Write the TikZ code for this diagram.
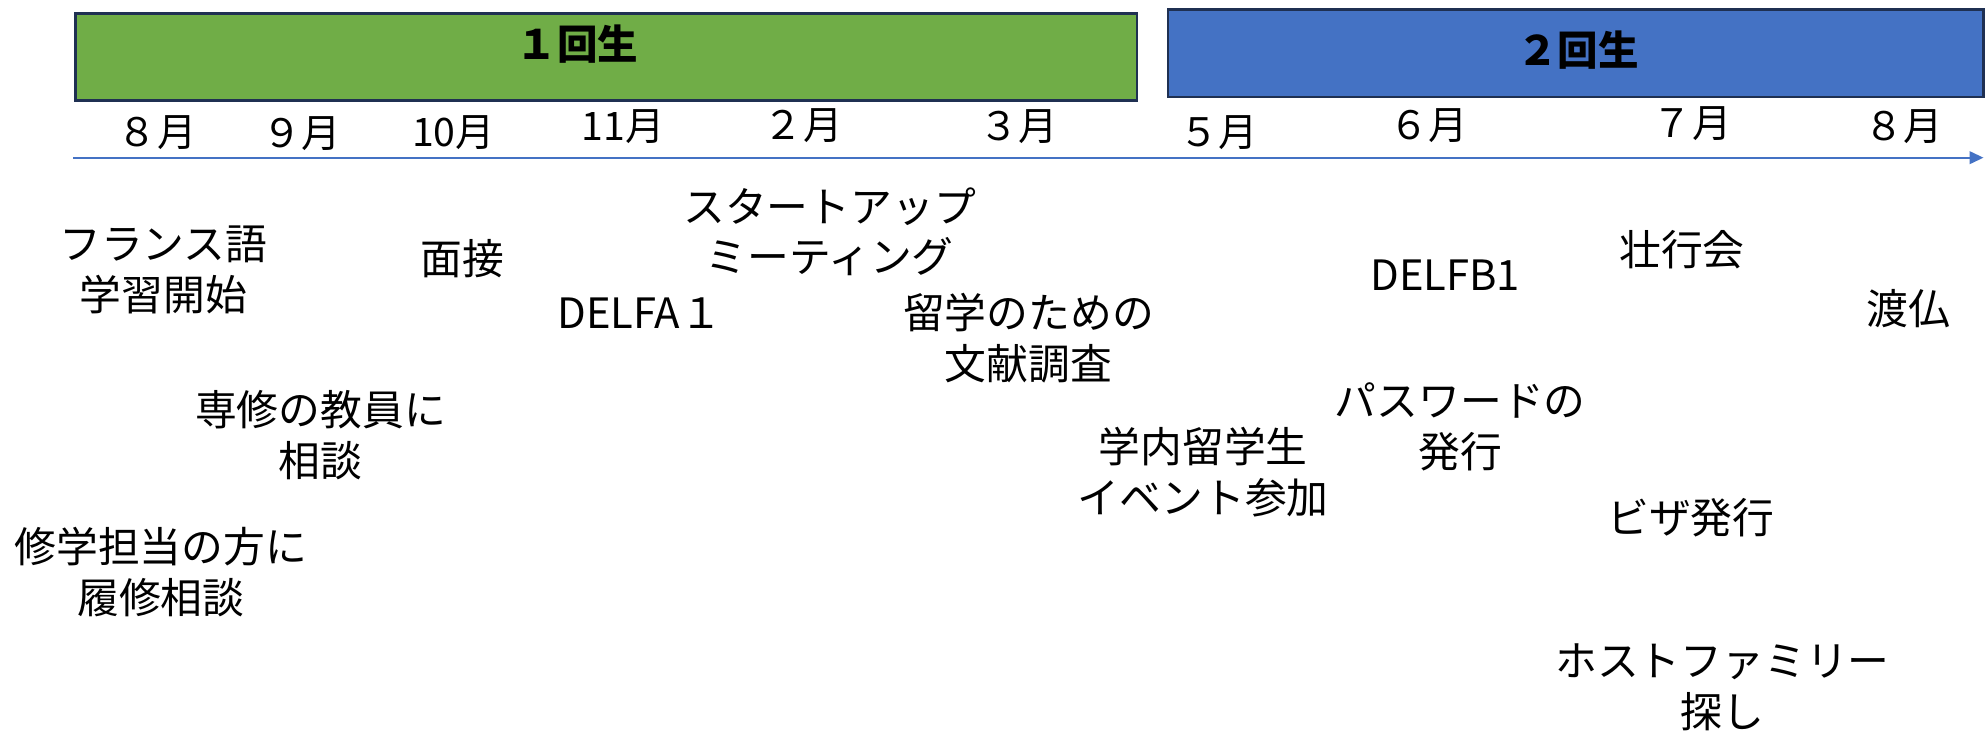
\documentclass[tikz,border=0pt]{standalone}
\usepackage{fontspec}
\setmainfont{Noto Sans CJK JP}
\usetikzlibrary{arrows.meta}
\definecolor{tgreen}{HTML}{70AD47}
\definecolor{tblue}{HTML}{4472C4}
\definecolor{tborder}{HTML}{1F3052}
\newcommand\evs{\rule[-5pt]{0pt}{35pt}}
\newcommand\mos{\rule[-3.5pt]{0pt}{30.5pt}}
\newcommand\tis{\rule[-3.8pt]{0pt}{31.8pt}}
\tikzset{
  yearbox/.style={draw=tborder, line width=2.2pt, anchor=north west, inner sep=0pt},
  title/.style={font=\fontsize{32}{38}\selectfont\bfseries, inner sep=0pt},
  month/.style={font=\fontsize{31}{36}\selectfont, inner sep=0pt},
  ev/.style={font=\fontsize{33}{40}\selectfont, align=center, inner sep=0pt},
  axis/.style={draw=tblue, line width=1.6pt, -{Triangle[length=11pt,width=10pt]}}
}
\begin{document}
\begin{tikzpicture}[x=1pt,y=-1pt]
\useasboundingbox (0,0) rectangle (1568,577);
% year boxes
\node[yearbox, fill=tgreen, minimum width=838pt, minimum height=69pt] (y1) at (58.5,9.5) {};
\node[yearbox, fill=tblue, minimum width=644pt, minimum height=69pt] (y2) at (921,6.5) {};
\node[title] (t1) at (456,35) {\tis １回生};
\node[title] (t2) at (1246,40) {\tis ２回生};
% months
\node[month] (m1) at (124,104) {\mos ８月};
\node[month] (m2) at (238,105) {\mos ９月};
\node[month] (m3) at (358,104) {\mos 10月};
\node[month] (m4) at (492,99) {\mos 11月};
\node[month] (m5) at (634,98) {\mos ２月};
\node[month] (m6) at (804,99) {\mos ３月};
\node[month] (m7) at (962,104) {\mos ５月};
\node[month] (m8) at (1128,98) {\mos ６月};
\node[month] (m9) at (1336,97) {\mos ７月};
\node[month] (m10) at (1503,99) {\mos ８月};
% axis
\coordinate (ax0) at (58,124.5);
\coordinate (ax1) at (1566,124.5);
\draw[axis] (ax0) -- (ax1);
% events
\node[ev] (e1) at (129,212.5) {\evs フランス語\\\evs 学習開始};
\node[ev] (e2) at (365,204) {\evs 面接};
\node[ev] (e3) at (655,183) {\evs スタートアップ\\\evs ミーティング};
\node[ev] (e4) at (505,247) {\evs DELFA１};
\node[ev] (e5) at (812,267) {\evs 留学のための\\\evs 文献調査};
\node[ev] (e6) at (1141,217) {\evs DELFB1};
\node[ev] (e7) at (1328,197) {\evs 壮行会};
\node[ev] (e8) at (1507,244) {\evs 渡仏};
\node[ev] (e9) at (253,343.5) {\evs 専修の教員に\\\evs 相談};
\node[ev] (e10) at (1153,336.5) {\evs パスワードの\\\evs 発行};
\node[ev] (e11) at (950,373) {\evs 学内留学生\\\evs イベント参加};
\node[ev] (e12) at (1335,409) {\evs ビザ発行};
\node[ev] (e13) at (127,451.5) {\evs 修学担当の方に\\\evs 履修相談};
\node[ev] (e14) at (1360,541.5) {\evs ホストファミリー\\\evs 探し};
\end{tikzpicture}
\end{document}
